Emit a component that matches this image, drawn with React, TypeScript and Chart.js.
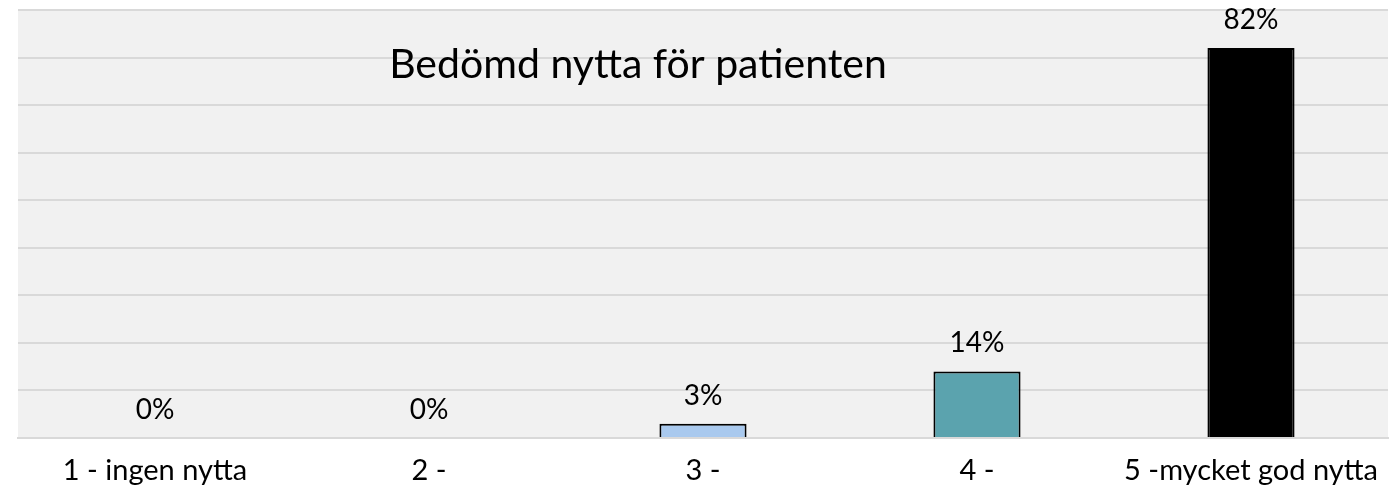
import React, { useEffect, useRef } from "react";
import { Chart, registerables } from "chart.js";

Chart.register(...registerables);

const categories = ["1 - ingen nytta", "2 -", "3 -", "4 -", "5 -mycket god nytta"];
const values = [0, 0, 3, 14, 82];
const valueLabels = ["0%", "0%", "3%", "14%", "82%"];
const barColors = ["#a9c9ee", "#a9c9ee", "#a9c9ee", "#5ba3ae", "#000000"];
const yTicks = [0, 10, 20, 30, 40, 50, 60, 70, 80, 90];
const titleText = "Bedömd nytta för patienten";

const FONT = "Lato, 'Noto Sans', sans-serif";

const bgPlugin = {
  id: "plotBg",
  beforeDraw(chart: any) {
    const { ctx, chartArea } = chart;
    ctx.save();
    ctx.fillStyle = "#f1f1f1";
    ctx.fillRect(chartArea.left, chartArea.top, chartArea.right - chartArea.left, chartArea.bottom - chartArea.top);
    ctx.restore();
  },
};

const labelPlugin = {
  id: "valueLabels",
  afterDatasetsDraw(chart: any) {
    const { ctx } = chart;
    const meta = chart.getDatasetMeta(0);
    ctx.save();
    ctx.fillStyle = "#000000";
    ctx.font = `28px ${FONT}`;
    ctx.textAlign = "center";
    ctx.textBaseline = "middle";
    meta.data.forEach((el: any, i: number) => {
      ctx.fillText(valueLabels[i], el.x, el.y - 28);
    });
    ctx.restore();
  },
};

const titlePlugin = {
  id: "innerTitle",
  afterDatasetsDraw(chart: any) {
    const { ctx } = chart;
    ctx.save();
    ctx.fillStyle = "#000000";
    ctx.font = `41px ${FONT}`;
    ctx.textAlign = "center";
    ctx.textBaseline = "alphabetic";
    ctx.fillText(titleText, 638, 78);
    ctx.restore();
  },
};

export default function App() {
  const ref = useRef<HTMLCanvasElement>(null);
  useEffect(() => {
    if (!ref.current) return;
    const chart = new Chart(ref.current, {
      type: "bar",
      data: {
        labels: categories,
        datasets: [
          {
            data: values,
            backgroundColor: barColors,
            borderColor: "#000000",
            borderWidth: 2,
            barPercentage: 1,
            categoryPercentage: 0.318,
          },
        ],
      },
      options: {
        animation: false,
        responsive: true,
        maintainAspectRatio: false,
        layout: { padding: { left: 18, right: 11, top: 10, bottom: 0 } },
        plugins: { legend: { display: false }, tooltip: { enabled: false }, title: { display: false } },
        scales: {
          x: {
            grid: { display: false, drawTicks: false },
            border: { display: true, color: "#d9d9d9", width: 2 },
            ticks: { color: "#000000", font: { family: FONT, size: 29 }, padding: 15, maxRotation: 0, autoSkip: false },
            afterFit: (axis: any) => {
              axis.height = 57;
            },
          },
          y: {
            min: 0,
            max: 90,
            afterBuildTicks: (axis: any) => {
              axis.ticks = yTicks.map((v) => ({ value: v }));
            },
            grid: { color: "#d9d9d9", lineWidth: 2, drawTicks: false },
            border: { display: false },
            ticks: { display: false },
          },
        },
      },
      plugins: [bgPlugin, labelPlugin, titlePlugin],
    });
    return () => chart.destroy();
  }, []);
  return (
    <div style={{ position: "fixed", left: 0, top: 0, width: 1399, height: 495, background: "#ffffff" }}>
      <canvas ref={ref} />
    </div>
  );
}
